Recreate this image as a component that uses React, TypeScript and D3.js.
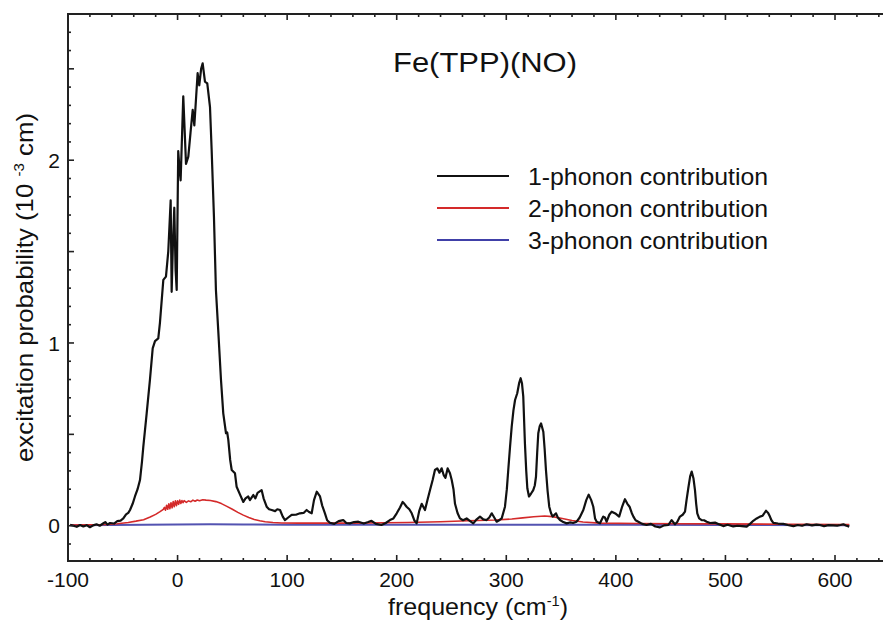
import React from 'react';
import * as d3 from 'd3';

// frequency (cm^-1), excitation probability (10^-3 cm)
const onePhonon: [number, number][] = [
  [-98, 0.005], [-95, 0.0], [-92, -0.006], [-89, 0.004], [-86, -0.004], [-83, 0.003], [-80, -0.008],
  [-77, 0.002], [-74, 0.008], [-71, 0.0], [-68, 0.012], [-66, 0.02], [-64, 0.006], [-61.6, 0.015],
  [-58, 0.012], [-55, 0.025], [-52, 0.028], [-49.5, 0.04], [-47, 0.062], [-45, 0.07], [-43.4, 0.086],
  [-41, 0.12], [-38.9, 0.16], [-36.5, 0.2], [-34.3, 0.25], [-32.5, 0.35], [-31.3, 0.43], [-28.2, 0.615],
  [-25.2, 0.8], [-22.7, 0.97], [-20.6, 1.01], [-17.6, 1.025], [-16.1, 1.11], [-13, 1.345], [-10.6, 1.363],
  [-8.5, 1.5], [-6.3, 1.78], [-5.4, 1.28], [-4.2, 1.55], [-3, 1.74], [-1.8, 1.4], [-0.8, 1.29],
  [0.6, 2.05], [1.8, 1.95], [2.8, 1.89], [5.2, 2.35], [7.7, 1.98], [9.8, 2.02], [11.8, 2.15],
  [13.8, 2.275], [15.3, 2.19], [18.3, 2.476], [19.8, 2.41], [21.5, 2.5], [22.9, 2.53], [25, 2.43],
  [27.1, 2.42], [29.6, 2.29], [31.1, 2.056], [33.2, 1.69], [35, 1.29], [37.1, 1.07], [39.6, 0.8],
  [41.7, 0.615], [44.2, 0.506], [45.3, 0.51], [46.3, 0.47], [48, 0.36], [49.4, 0.305], [52.4, 0.287],
  [53.9, 0.213], [57, 0.17], [60, 0.13], [62, 0.15], [64.5, 0.16], [66, 0.14], [69.1, 0.168], [71, 0.15],
  [73, 0.18], [76.7, 0.195], [78.5, 0.15], [81.3, 0.104], [83.5, 0.09], [85.9, 0.086], [89, 0.08],
  [91, 0.09], [93.5, 0.086], [96, 0.05], [98, 0.031], [101, 0.045], [104.1, 0.059], [108, 0.06],
  [111.7, 0.068], [115, 0.07], [117.8, 0.086], [120, 0.075], [122.4, 0.068], [124.5, 0.14], [127, 0.186],
  [130, 0.16], [132, 0.11], [134.5, 0.068], [136.5, 0.03], [139, 0.016], [143, 0.01], [147, 0.025],
  [151.2, 0.031], [154, 0.015], [157.3, 0.013], [161, 0.02], [165, 0.022], [170, 0.012], [174, 0.02],
  [177, 0.027], [181, 0.01], [186, 0.004], [190, 0.015], [193.8, 0.031], [197, 0.04], [200, 0.068],
  [203, 0.1], [205.4, 0.13], [207, 0.12], [209, 0.104], [211.5, 0.09], [213.7, 0.068], [216, 0.03],
  [218.2, 0.013], [220.5, 0.08], [222.8, 0.12], [225.8, 0.086], [228, 0.14], [230.4, 0.195], [232.8, 0.25],
  [234.9, 0.305], [237, 0.314], [239, 0.29], [241, 0.314], [243, 0.275], [244.5, 0.262], [246.5, 0.314],
  [248.6, 0.287], [250.2, 0.25], [251.8, 0.2], [253.2, 0.12], [255.5, 0.07], [257.7, 0.04], [260.5, 0.03],
  [263.8, 0.04], [267, 0.025], [269.9, 0.013], [273, 0.035], [276, 0.05], [279, 0.035], [282, 0.031],
  [284.5, 0.045], [286.7, 0.068], [289, 0.045], [291.2, 0.022], [293.5, 0.03], [295.8, 0.04], [298.8, 0.104],
  [300.5, 0.2], [301.8, 0.305], [303.4, 0.43], [304.9, 0.54], [306.5, 0.63], [308, 0.688], [310, 0.725],
  [311.7, 0.78], [313.1, 0.807], [314.3, 0.78], [315.5, 0.706], [317, 0.451], [318.2, 0.3], [319.2, 0.205],
  [320.7, 0.16], [322.5, 0.175], [324.6, 0.195], [326, 0.22], [327.1, 0.268], [328.2, 0.4], [329.2, 0.506],
  [330.5, 0.545], [331.7, 0.56], [333.8, 0.514], [335, 0.42], [336.2, 0.305], [337.7, 0.19], [339.2, 0.104],
  [340.8, 0.07], [342.3, 0.05], [345.4, 0.068], [347, 0.045], [349, 0.031], [352, 0.02], [355.1, 0.013],
  [358, 0.018], [361, 0.015], [364.2, 0.022], [367, 0.045], [370.3, 0.086], [373, 0.14], [375.2, 0.17],
  [377.5, 0.14], [379.4, 0.104], [381, 0.04], [382.5, 0.022], [385.5, 0.013], [388.5, 0.05], [390, 0.045],
  [391.6, 0.022], [394, 0.06], [396.2, 0.077], [400, 0.065], [403, 0.05], [405.5, 0.1], [408.3, 0.145],
  [410.5, 0.12], [412.5, 0.104], [414.5, 0.07], [416, 0.05], [418, 0.03], [420.5, 0.022], [424, 0.01],
  [428, 0.004], [432, 0.01], [436, -0.004], [440.3, -0.009], [444, 0.002], [447.9, 0.004], [450.9, 0.031],
  [453.9, 0.008], [456, 0.02], [458.5, 0.05], [461, 0.06], [463.1, 0.077], [464.5, 0.14], [466.1, 0.205],
  [467.8, 0.27], [469.2, 0.296], [470.8, 0.26], [472.2, 0.195], [473.3, 0.12], [474.3, 0.068], [476, 0.04],
  [478.3, 0.031], [480.5, 0.03], [482.9, 0.022], [486, 0.015], [490.5, 0.017], [494, 0.008], [498, -0.002],
  [502, 0.005], [507.1, -0.004], [511, 0.0], [515, -0.002], [519.4, -0.005], [522.5, 0.01], [525.4, 0.027],
  [528.5, 0.04], [531.5, 0.05], [534, 0.055], [537, 0.082], [539, 0.07], [540.6, 0.05], [542, 0.03],
  [543.7, 0.016], [548, 0.012], [552.8, 0.01], [557, 0.004], [562, -0.002], [566, 0.004], [570, 0.0],
  [574.1, 0.008], [579, 0.002], [583, 0.006], [586.3, 0.004], [590, -0.002], [594, 0.003], [598.5, 0.002],
  [602, 0.001], [605, 0.004], [607.6, 0.008], [610, 0.001], [613, -0.005],
];

const twoPhonon: [number, number][] = [
  [-98, 0.004], [-80, 0.005], [-65, 0.007], [-55, 0.011], [-45, 0.018], [-38, 0.025], [-31, 0.033],
  [-25, 0.048], [-20, 0.062], [-16, 0.077], [-13, 0.09], [-12, 0.1], [-11, 0.085], [-10, 0.112],
  [-9, 0.09], [-8, 0.12], [-7, 0.093], [-6, 0.126], [-5, 0.098], [-4, 0.132], [-3, 0.104], [-2, 0.136],
  [-1, 0.11], [0, 0.137], [1, 0.117], [2, 0.14], [3, 0.122], [4, 0.138], [5, 0.126], [6, 0.137],
  [8, 0.128], [10, 0.136], [12, 0.131], [14, 0.14], [16, 0.134], [18, 0.141], [20, 0.137], [23, 0.142],
  [26, 0.14], [30, 0.138], [35, 0.132], [40, 0.121], [45, 0.106], [50, 0.09], [55, 0.073], [60, 0.058],
  [65, 0.045], [70, 0.034], [75, 0.027], [80, 0.022], [87, 0.018], [95, 0.015], [110, 0.014],
  [130, 0.014], [160, 0.014], [190, 0.016], [210, 0.018], [240, 0.022], [265, 0.027], [290, 0.031],
  [305, 0.037], [315, 0.043], [325, 0.049], [335, 0.053], [342, 0.05], [350, 0.041], [360, 0.029],
  [370, 0.02], [385, 0.014], [420, 0.012], [460, 0.011], [500, 0.01], [560, 0.008], [613, 0.006],
];

const threePhonon: [number, number][] = [
  [-98, 0.003], [-60, 0.004], [-30, 0.005], [0, 0.007], [30, 0.008], [60, 0.007], [100, 0.006],
  [200, 0.005], [300, 0.006], [340, 0.006], [400, 0.005], [500, 0.004], [613, 0.003],
];

const xLabelTicks = [-100, 0, 100, 200, 300, 400, 500, 600];
const yLabelTicks = [0, 1, 2];

const series = [
  { label: '1-phonon contribution', data: onePhonon, color: '#111111', width: 2.2 },
  { label: '2-phonon contribution', data: twoPhonon, color: '#d42a2a', width: 1.6 },
  { label: '3-phonon contribution', data: threePhonon, color: '#4040a8', width: 2 },
];

const W = 883;
const H = 620;
const left = 68;
const right = 883;
const top = 14;
const bottom = 561;
const font = "'Liberation Sans', Arial, Helvetica, sans-serif";

export default function App() {
  const x = d3.scaleLinear().domain([-100, 643.8]).range([left, right]);
  const y = d3.scaleLinear().domain([-0.193, 2.8]).range([bottom, top]);

  const line = d3.line<[number, number]>()
    .x(d => x(d[0]))
    .y(d => y(d[1]));

  const xMinor = d3.range(-100, 644, 20);
  const yMinor = d3.range(-1, 28).map(i => i / 10);

  const drawOrder = [series[2], series[1], series[0]];

  return (
    <svg width={W} height={H} style={{ position: 'absolute', left: 0, top: 0, background: '#fff' }}
      fontFamily={font}>
      {/* curves */}
      {drawOrder.map(s => (
        <path key={s.label} d={line(s.data) || ''} fill="none" stroke={s.color}
          strokeWidth={s.width} strokeLinejoin="round" opacity={s === series[2] ? 0.9 : 1} />
      ))}

      {/* frame */}
      <g stroke="#222" strokeWidth={2} fill="none">
        <line x1={left} x2={right} y1={top} y2={top} />
        <line x1={left} x2={right} y1={bottom} y2={bottom} />
        <line x1={left} x2={left} y1={top - 1} y2={bottom + 1} />
      </g>

      {/* ticks pointing inward */}
      <g stroke="#222" strokeWidth={1.6}>
        {xMinor.map(v => {
          const len = v % 100 === 0 ? 6 : 3;
          return (
            <g key={v}>
              <line x1={x(v)} x2={x(v)} y1={bottom} y2={bottom - len} />
              <line x1={x(v)} x2={x(v)} y1={top} y2={top + len} />
            </g>
          );
        })}
        {yMinor.map(v => {
          const len = Math.round(v * 10) % 5 === 0 ? 6 : 3;
          return <line key={v} x1={left} x2={left + len} y1={y(v)} y2={y(v)} />;
        })}
      </g>

      {/* tick labels */}
      <g fontSize={21} fill="#111">
        {xLabelTicks.map(v => (
          <text key={v} x={x(v)} y={587} textAnchor="middle">{v}</text>
        ))}
        {yLabelTicks.map(v => (
          <text key={v} x={60} y={y(v)} dy="0.36em" textAnchor="end">{v}</text>
        ))}
      </g>

      {/* axis titles */}
      <text x={388} y={615} fontSize={24} fill="#111" textLength={180} lengthAdjust="spacingAndGlyphs">
        frequency (cm<tspan dy={-9} fontSize={14}>-1</tspan><tspan dy={9}>)</tspan>
      </text>
      <text transform={`translate(33,462) rotate(-90)`} fontSize={24} fill="#111"
        textLength={349} lengthAdjust="spacingAndGlyphs">
        excitation probability (10 <tspan dy={-9} fontSize={14}>-3</tspan><tspan dy={9}> cm)</tspan>
      </text>

      {/* title */}
      <text x={393} y={72} fontSize={28} fill="#111" textLength={184}
        lengthAdjust="spacingAndGlyphs">Fe(TPP)(NO)</text>

      {/* legend */}
      {series.map((s, i) => (
        <g key={s.label} transform={`translate(437,${176 + i * 32})`}>
          <line x1={0} x2={72} y1={0} y2={0} stroke={s.color} strokeWidth={2} />
          <text x={91} y={0} dy="0.36em" fontSize={24} fill="#111" textLength={240}
            lengthAdjust="spacingAndGlyphs">{s.label}</text>
        </g>
      ))}
    </svg>
  );
}
